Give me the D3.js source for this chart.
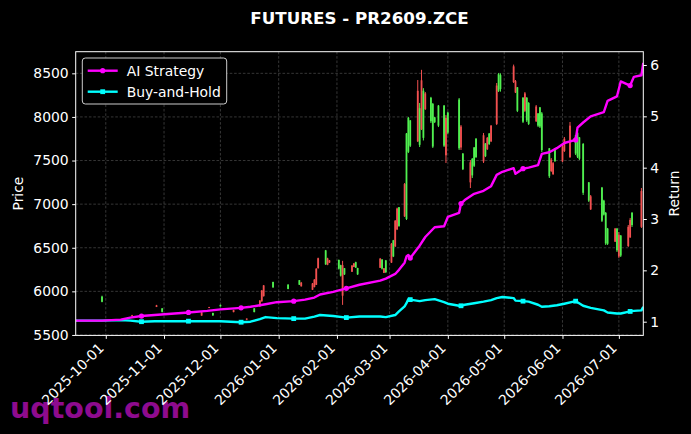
<!DOCTYPE html>
<html>
<head>
<meta charset="utf-8">
<script src="https://cdn.jsdelivr.net/npm/d3@7"></script>
<style>
  body { margin: 0; background: #000; }
  svg { display: block; }
  text { font-family: "DejaVu Sans", sans-serif; fill: #fff; }
</style>
</head>
<body>
<div class="chart"></div>
<script>
// candle data
var candleDates = [
  "2025-09-29","2025-10-15","2025-10-28","2025-10-31",
  "2025-11-21","2025-11-25","2025-11-27",
  "2025-12-01","2025-12-08","2025-12-15","2025-12-19","2025-12-22","2025-12-23","2025-12-24","2025-12-29",
  "2026-01-06","2026-01-12","2026-01-13","2026-01-19","2026-01-20","2026-01-21","2026-01-22","2026-01-26","2026-01-27","2026-01-28",
  "2026-02-02","2026-02-03","2026-02-04","2026-02-05","2026-02-09","2026-02-10","2026-02-11","2026-02-12","2026-02-24","2026-02-25","2026-02-26","2026-02-27",
  "2026-03-02","2026-03-03","2026-03-04","2026-03-05","2026-03-06","2026-03-09","2026-03-10","2026-03-11","2026-03-12","2026-03-16","2026-03-17","2026-03-18","2026-03-19","2026-03-20","2026-03-23","2026-03-24","2026-03-25","2026-03-27","2026-03-30","2026-03-31",
  "2026-04-01","2026-04-07","2026-04-08","2026-04-09","2026-04-13","2026-04-14","2026-04-15","2026-04-16","2026-04-20","2026-04-21","2026-04-22","2026-04-23","2026-04-24","2026-04-27","2026-04-28","2026-04-29",
  "2026-05-06","2026-05-07","2026-05-08","2026-05-11","2026-05-12","2026-05-13","2026-05-14","2026-05-18","2026-05-19","2026-05-20","2026-05-21","2026-05-25","2026-05-26","2026-05-27","2026-05-28",
  "2026-06-01","2026-06-02","2026-06-05","2026-06-08","2026-06-09","2026-06-10","2026-06-12","2026-06-15","2026-06-16","2026-06-22","2026-06-23","2026-06-24","2026-06-25","2026-06-29","2026-06-30",
  "2026-07-01","2026-07-02","2026-07-06","2026-07-07","2026-07-08","2026-07-13"
];
var candleOpen = [
  5940,5715,5822,5805,
  5722,5810,5752,
  5845,5762,5676,5805,5828,5885,5945,6108,
  6078,6128,6058,6018,6050,6075,6265,6470,6305,6330,
  6360,6300,5950,6265,6225,6280,6335,6268,6270,6365,6212,6355,
  6330,6585,6515,6710,6965,6860,7810,7990,7960,7720,8100,7860,8300,8090,8220,8150,7995,8130,8130,7560,
  8050,8200,7650,7580,7250,7520,7650,7750,7490,7695,7630,7810,7720,7920,8490,8480,
  8400,8280,8340,8220,8070,8220,8160,7950,8040,8110,8040,7640,7380,7345,7640,
  7490,7610,7540,7790,7820,7765,7690,7250,6940,7190,7040,6900,6720,6570,6720,
  6400,6640,6520,6620,6900,6740
];
var candleHigh = [
  5950,5730,5845,5808,
  5765,5822,5755,
  5848,5788,5690,5808,5900,6015,6073,6110,
  6080,6130,6108,6096,6140,6265,6386,6475,6385,6360,
  6365,6305,6350,6268,6302,6325,6340,6270,6383,6370,6268,6360,
  6555,6590,6818,6960,6967,7242,7816,8000,7965,8423,8160,8540,8330,8286,8230,8160,8000,8137,8137,8022,
  8060,8217,7907,7586,7506,7529,7655,7758,7816,7701,7770,7816,7907,8389,8503,8500,
  8600,8423,8343,8228,8286,8228,8170,8137,8045,8114,8056,7644,7529,7483,7644,
  7678,7770,7942,7793,7827,7770,7701,7254,7105,7197,7050,6910,6727,6727,6727,
  6681,6646,6761,6842,6910,7185
];
var candleLow = [
  5875,5712,5820,5758,
  5720,5808,5718,
  5825,5760,5670,5760,5825,5882,5940,6042,
  6024,6073,6055,6015,6045,6073,6262,6303,6300,6325,
  6250,6170,5845,6188,6222,6278,6268,6188,6268,6250,6210,6210,
  6325,6393,6509,6703,6740,6853,6818,7586,7655,7712,7655,7850,7730,8080,7930,7644,7930,7884,7655,7472,
  7800,7621,7621,7391,7185,7300,7426,7529,7472,7540,7621,7678,7712,7907,8286,8290,
  8389,8274,8056,7930,8056,7942,7907,7942,7884,7873,7598,7300,7368,7334,7483,
  7483,7598,7529,7563,7529,7506,7105,7025,6933,6795,6870,6532,6532,6566,6452,
  6383,6394,6509,6612,6738,6727
];
var candleClose = [
  5880,5726,5840,5765,
  5760,5820,5725,
  5828,5785,5688,5762,5895,6010,6068,6045,
  6028,6076,6100,6090,6135,6260,6380,6310,6378,6355,
  6260,6180,6300,6195,6295,6320,6272,6195,6375,6260,6265,6220,
  6545,6400,6810,6950,6750,7230,6830,7600,7670,8300,7680,8420,7760,8270,7950,7660,7940,7900,7670,7990,
  7820,7640,7890,7400,7480,7330,7440,7540,7790,7550,7760,7690,7900,8360,8300,8320,
  8580,8410,8070,7945,8270,7960,7920,8120,7900,7890,7620,7320,7510,7470,7495,
  7660,7750,7900,7580,7545,7520,7130,7040,7090,6810,6880,6550,6545,6720,6470,
  6650,6410,6740,6820,6760,7150
];

// return curves
var lineDates = [
  "2025-09-15","2025-09-22","2025-09-29","2025-10-09","2025-10-14","2025-10-20","2025-10-27","2025-11-03","2025-11-14","2025-11-24","2025-12-01","2025-12-12","2025-12-17","2025-12-22","2025-12-25","2025-12-31",
  "2026-01-09","2026-01-15","2026-01-20","2026-01-23","2026-01-30","2026-02-06","2026-02-13","2026-02-24","2026-02-27",
  "2026-03-04","2026-03-06","2026-03-09","2026-03-10","2026-03-11","2026-03-12","2026-03-17","2026-03-20","2026-03-25","2026-03-30",
  "2026-04-01","2026-04-07","2026-04-08","2026-04-10","2026-04-15","2026-04-20","2026-04-24","2026-04-27","2026-04-30",
  "2026-05-06","2026-05-07","2026-05-11","2026-05-14","2026-05-19","2026-05-21","2026-05-25","2026-05-29",
  "2026-06-02","2026-06-08","2026-06-09","2026-06-12","2026-06-16","2026-06-23","2026-06-25","2026-06-30",
  "2026-07-02","2026-07-07","2026-07-09","2026-07-13","2026-07-14"
];
var aiReturn = [
  1.02,1.02,1.02,1.04,1.08,1.11,1.13,1.15,1.18,1.21,1.24,1.27,1.29,1.32,1.34,1.38,
  1.40,1.43,1.47,1.53,1.58,1.65,1.72,1.80,1.84,
  1.93,2.01,2.15,2.27,2.30,2.24,2.48,2.65,2.84,2.86,
  3.04,3.12,3.30,3.37,3.49,3.55,3.64,3.86,3.92,
  3.99,3.88,3.98,4.00,4.05,4.27,4.30,4.38,
  4.48,4.54,4.78,4.88,5.00,5.08,5.30,5.39,
  5.68,5.60,5.77,5.80,6.04
];
var bhReturn = [
  1.02,1.02,1.02,1.03,1.02,1.00,1.01,1.01,1.01,1.01,1.01,0.99,1.00,1.05,1.09,1.07,
  1.06,1.06,1.10,1.13,1.11,1.08,1.10,1.10,1.09,
  1.13,1.20,1.30,1.36,1.44,1.43,1.40,1.42,1.44,1.38,
  1.35,1.31,1.31,1.33,1.36,1.39,1.42,1.46,1.48,
  1.46,1.41,1.40,1.39,1.33,1.29,1.30,1.32,
  1.35,1.40,1.38,1.31,1.27,1.22,1.18,1.16,
  1.16,1.20,1.21,1.22,1.29
];
var markerDates = ["2025-10-20","2025-11-14","2025-12-12","2026-01-09","2026-02-06",
  "2026-03-12","2026-04-08","2026-05-11","2026-06-08","2026-07-07"];

// ticks
var priceTicks = [5500, 6000, 6500, 7000, 7500, 8000, 8500];
var returnTicks = [1, 2, 3, 4, 5, 6];
var monthTicks = ["2025-10-01","2025-11-01","2025-12-01","2026-01-01","2026-02-01",
  "2026-03-01","2026-04-01","2026-05-01","2026-06-01","2026-07-01"];

var parseDate = d3.timeParse("%Y-%m-%d");
var fmtDate = d3.timeFormat("%Y-%m-%d");

var svgWidth = 691, svgHeight = 434;
var margin = { top: 51.7, right: 47.7, bottom: 98.6, left: 75.7 };
var width = svgWidth - margin.left - margin.right;
var height = svgHeight - margin.top - margin.bottom;

var svg = d3.select(".chart").append("svg")
  .attr("width", svgWidth)
  .attr("height", svgHeight)
  .style("background", "#000");

// watermark sits behind the tick labels
svg.append("text")
  .attr("x", 10)
  .attr("y", 418)
  .style("font-size", "28.5px")
  .style("font-weight", "bold")
  .style("fill", "#8e0b8e")
  .text("uqtool.com");

svg.append("text")
  .attr("x", margin.left + width / 2)
  .attr("y", 24)
  .attr("text-anchor", "middle")
  .style("font-size", "16.7px")
  .style("font-weight", "bold")
  .text("FUTURES - PR2609.ZCE");

var chartGroup = svg.append("g")
  .attr("transform", `translate(${margin.left}, ${margin.top})`);

// scales
var xTimeScale = d3.scaleTime()
  .domain([parseDate("2025-09-15"), parseDate("2026-07-14")])
  .range([0, width]);
var yPriceScale = d3.scaleLinear().domain([5495, 8748]).range([height, 0]);
var yReturnScale = d3.scaleLinear().domain([0.733, 6.259]).range([height, 0]);

// grid
var grid = chartGroup.append("g")
  .attr("stroke", "#5a5a5a")
  .attr("stroke-width", 0.6)
  .attr("stroke-dasharray", "2.6,1.8");
grid.selectAll(".hgrid").data(priceTicks).enter().append("line")
  .attr("x1", 0).attr("x2", width)
  .attr("y1", d => yPriceScale(d)).attr("y2", d => yPriceScale(d));
grid.selectAll(".vgrid").data(monthTicks).enter().append("line")
  .attr("y1", 0).attr("y2", height)
  .attr("x1", d => xTimeScale(parseDate(d))).attr("x2", d => xTimeScale(parseDate(d)));

chartGroup.append("clipPath").attr("id", "plotClip")
  .append("rect").attr("width", width).attr("height", height);
var plot = chartGroup.append("g").attr("clip-path", "url(#plotClip)");

// candles: red = up, green = down
var upColor = "#f25050", downColor = "#50f050";
var candles = candleDates.map(function(d, i) {
  return { date: parseDate(d), o: candleOpen[i], h: candleHigh[i], l: candleLow[i], c: candleClose[i] };
});
var candleG = plot.selectAll(".candle").data(candles).enter().append("g");
candleG.append("line")
  .attr("x1", d => xTimeScale(d.date)).attr("x2", d => xTimeScale(d.date))
  .attr("y1", d => yPriceScale(d.h)).attr("y2", d => yPriceScale(d.l))
  .attr("stroke", d => d.c >= d.o ? upColor : downColor)
  .attr("stroke-width", 1);
candleG.append("rect")
  .attr("x", d => xTimeScale(d.date) - 0.9)
  .attr("width", 1.8)
  .attr("y", d => yPriceScale(Math.max(d.o, d.c)))
  .attr("height", d => Math.max(0.8, Math.abs(yPriceScale(d.o) - yPriceScale(d.c))))
  .attr("fill", d => d.c >= d.o ? upColor : downColor);

// return lines
var aiData = lineDates.map((d, i) => ({ date: parseDate(d), v: aiReturn[i] }));
var bhData = lineDates.map((d, i) => ({ date: parseDate(d), v: bhReturn[i] }));
var retLine = d3.line().x(d => xTimeScale(d.date)).y(d => yReturnScale(d.v));

var aiColor = "#ff00ff", bhColor = "#00ffff";
plot.append("path").datum(bhData)
  .attr("d", retLine).attr("fill", "none")
  .attr("stroke", bhColor).attr("stroke-width", 2.4).attr("stroke-linejoin", "round");
plot.append("path").datum(aiData)
  .attr("d", retLine).attr("fill", "none")
  .attr("stroke", aiColor).attr("stroke-width", 2.4).attr("stroke-linejoin", "round");

var bhMarks = bhData.filter(d => markerDates.indexOf(fmtDate(d.date)) >= 0);
var aiMarks = aiData.filter(d => markerDates.indexOf(fmtDate(d.date)) >= 0);
plot.selectAll(".bhMark").data(bhMarks).enter().append("rect")
  .attr("x", d => xTimeScale(d.date) - 2.4).attr("y", d => yReturnScale(d.v) - 2.4)
  .attr("width", 4.8).attr("height", 4.8).attr("fill", bhColor);
plot.selectAll(".aiMark").data(aiMarks).enter().append("circle")
  .attr("cx", d => xTimeScale(d.date)).attr("cy", d => yReturnScale(d.v))
  .attr("r", 2.6).attr("fill", aiColor);

// axes
function styleAxis(g) {
  g.select(".domain").remove();
  g.selectAll(".tick line").attr("stroke", "#fff").attr("stroke-width", 1);
  g.selectAll(".tick text").style("font-size", "13.9px").style("fill", "#fff")
    .style("font-family", "'DejaVu Sans', sans-serif");
}

chartGroup.append("g")
  .call(d3.axisLeft(yPriceScale).tickValues(priceTicks).tickFormat(d3.format("d"))
    .tickSize(3.5).tickPadding(3.5))
  .call(styleAxis);

chartGroup.append("g")
  .attr("transform", `translate(${width}, 0)`)
  .call(d3.axisRight(yReturnScale).tickValues(returnTicks).tickFormat(d3.format("d"))
    .tickSize(3.5).tickPadding(3.5))
  .call(styleAxis);

var xAxisG = chartGroup.append("g")
  .attr("transform", `translate(0, ${height})`)
  .call(d3.axisBottom(xTimeScale).tickValues(monthTicks.map(parseDate))
    .tickFormat(fmtDate).tickSize(3.5))
  .call(styleAxis);
xAxisG.selectAll(".tick text")
  .attr("x", -1.5).attr("y", 13.5).attr("dy", null)
  .attr("text-anchor", "end")
  .attr("transform", "rotate(-45, -1.5, 13.5)");

// frame
chartGroup.append("rect")
  .attr("width", width).attr("height", height)
  .attr("fill", "none").attr("stroke", "#fff").attr("stroke-width", 1);

// axis titles
svg.append("text")
  .attr("transform", `translate(23, ${margin.top + height / 2}) rotate(-90)`)
  .attr("text-anchor", "middle")
  .style("font-size", "13.9px")
  .text("Price");
svg.append("text")
  .attr("transform", `translate(679, ${margin.top + height / 2}) rotate(-90)`)
  .attr("text-anchor", "middle")
  .style("font-size", "13.9px")
  .text("Return");

// legend
var legend = svg.append("g").attr("transform", "translate(82.3, 58)");
legend.append("rect")
  .attr("width", 144.4).attr("height", 46).attr("rx", 3)
  .attr("fill", "#000").attr("stroke", "#cccccc").attr("stroke-width", 1);
var legendItems = [
  { name: "AI Strategy", color: aiColor, shape: "circle" },
  { name: "Buy-and-Hold", color: bhColor, shape: "square" }
];
legendItems.forEach(function(item, i) {
  var cy = 12.7 + i * 21;
  legend.append("line")
    .attr("x1", 5.4).attr("x2", 35.4).attr("y1", cy).attr("y2", cy)
    .attr("stroke", item.color).attr("stroke-width", 2.4);
  if (item.shape === "circle") {
    legend.append("circle").attr("cx", 20.4).attr("cy", cy).attr("r", 2.6).attr("fill", item.color);
  } else {
    legend.append("rect").attr("x", 18).attr("y", cy - 2.4).attr("width", 4.8).attr("height", 4.8)
      .attr("fill", item.color);
  }
  legend.append("text")
    .attr("x", 44.4).attr("y", cy + 4.9)
    .style("font-size", "13.9px")
    .text(item.name);
});
</script>
</body>
</html>
